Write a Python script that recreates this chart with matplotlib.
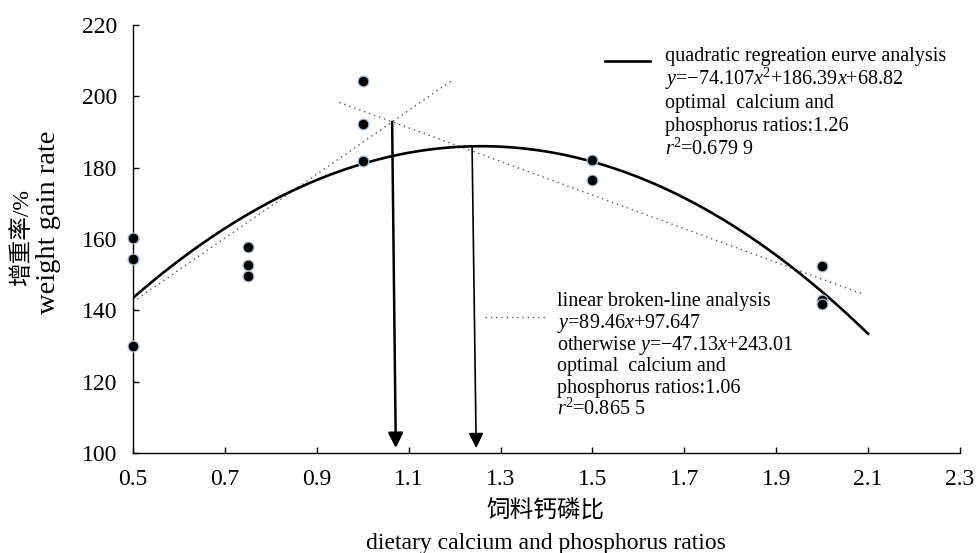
import numpy as np
import matplotlib
matplotlib.use("Agg")
import matplotlib.pyplot as plt
from matplotlib.lines import Line2D

plt.rcParams['font.family'] = ['Liberation Serif', 'Noto Sans CJK SC']
plt.rcParams['mathtext.fontset'] = 'custom'
plt.rcParams['mathtext.rm'] = 'Liberation Serif'
plt.rcParams['mathtext.it'] = 'Liberation Serif:italic'

# ---- data ----
ratio = [0.5, 0.5, 0.5, 0.75, 0.75, 0.75, 1.0, 1.0, 1.0, 1.5, 1.5, 2.0, 2.0, 2.0]
gain = [160.3, 154.3, 130.0, 157.7, 152.7, 149.6, 204.4, 192.2, 182.0,
        182.2, 176.6, 152.3, 143.0, 141.7]
quad_coef = [-74.107, 186.39, 68.82]
quad_range = [0.5, 2.1]
line1 = [89.46, 97.647]
line1_range = [0.5, 1.194]
line2 = [-47.13, 243.01]
line2_range = [0.949, 2.09]
arrow_top_x = [1.064, 1.238]
arrow_bot_x = [1.072, 1.247]
arrow_tip_y = 101.4
x_ticks = [0.5, 0.7, 0.9, 1.1, 1.3, 1.5, 1.7, 1.9, 2.1, 2.3]
y_ticks = [100, 120, 140, 160, 180, 200, 220]

W, H = 976, 553
fig = plt.figure(figsize=(W / 100, H / 100), dpi=100)
ax = fig.add_axes([133 / W, 1 - 453 / H, 827 / W, 428 / H])

def fx(px):
    return px / W

def fy(py):
    return 1 - py / H

# quadratic curve
xq = np.linspace(quad_range[0], quad_range[1], 300)
yq = np.polyval(quad_coef, xq)
ax.plot(xq, yq, color='black', lw=1.9, zorder=3)

# broken lines
dot = (0, (1, 2.8))
x1 = np.array(line1_range)
ax.plot(x1, line1[0] * x1 + line1[1], color='#555555', lw=1.0,
        linestyle=dot, zorder=2)
x2 = np.array(line2_range)
ax.plot(x2, line2[0] * x2 + line2[1], color='#555555', lw=1.0,
        linestyle=dot, zorder=2)

# points
ax.plot(ratio, gain, linestyle='none', marker='o', markersize=7.8,
        markerfacecolor='black', markeredgecolor='#a9c4da',
        markeredgewidth=0.9, zorder=5, clip_on=False)

# arrows
x_int = (line2[1] - line1[1]) / (line1[0] - line2[0])
tops = [line1[0] * x_int + line1[1], np.polyval(quad_coef, arrow_top_x[1])]
lws = [1.8, 1.2]
for xt, xb, yt, lw in zip(arrow_top_x, arrow_bot_x, tops, lws):
    ax.annotate('', xy=(xb, arrow_tip_y), xytext=(xt, yt),
                arrowprops=dict(arrowstyle='-|>,head_length=0.9,head_width=0.45',
                                color='black', lw=lw, shrinkA=0, shrinkB=0,
                                mutation_scale=10),
                zorder=4)

ax.set_xlim(0.5, 2.3)
ax.set_ylim(100, 220)
ax.set_xticks(x_ticks)
ax.set_xticklabels([f"{t:.1f}" for t in x_ticks])
ax.set_yticks(y_ticks)
for s in ['top', 'right']:
    ax.spines[s].set_visible(False)
for s in ['left', 'bottom']:
    ax.spines[s].set_linewidth(1.0)
ax.tick_params(direction='in', length=4, width=1.0, labelsize=17)
ax.tick_params(axis='x', pad=11.5)
ax.tick_params(axis='y', pad=11)

# axis labels
fig.text(fx(546), fy(512), '饲料钙磷比', ha='center', va='center', fontsize=17)
fig.text(fx(546), fy(543), 'dietary calcium and phosphorus ratios',
         ha='center', va='center', fontsize=17)
fig.text(fx(22), fy(237), '增重率/%', ha='center', va='center', fontsize=17,
         rotation=90)
fig.text(fx(49), fy(222), 'weight gain rate', ha='center', va='center',
         fontsize=20.5, rotation=90)

# legend 1
fig.add_artist(Line2D([fx(605), fx(650)], [fy(60.7), fy(60.7)],
                      color='black', lw=1.9))
leg1 = ['quadratic regreation eurve analysis',
        r'$y$=−74.107$x$$^2$+186.39$x$+68.82',
        'optimal  calcium and',
        'phosphorus ratios:1.26',
        r'$r$$^2$=0.679 9']
for i, t in enumerate(leg1):
    fig.text(fx(665), fy(55 + 23.4 * i + 6), t, ha='left', va='baseline',
             fontsize=14.5)

# legend 2
fig.add_artist(Line2D([fx(485), fx(545)], [fy(317), fy(317)],
                      color='#555555', lw=1.0, linestyle=dot))
leg2 = ['linear broken-line analysis',
        r'$y$=89.46$x$+97.647',
        r'otherwise $y$=−47.13$x$+243.01',
        'optimal  calcium and',
        'phosphorus ratios:1.06',
        r'$r$$^2$=0.865 5']
for i, t in enumerate(leg2):
    fig.text(fx(557), fy(300 + 21.8 * i + 6), t, ha='left', va='baseline',
             fontsize=14.5)

fig.savefig('out.png', dpi=100)
